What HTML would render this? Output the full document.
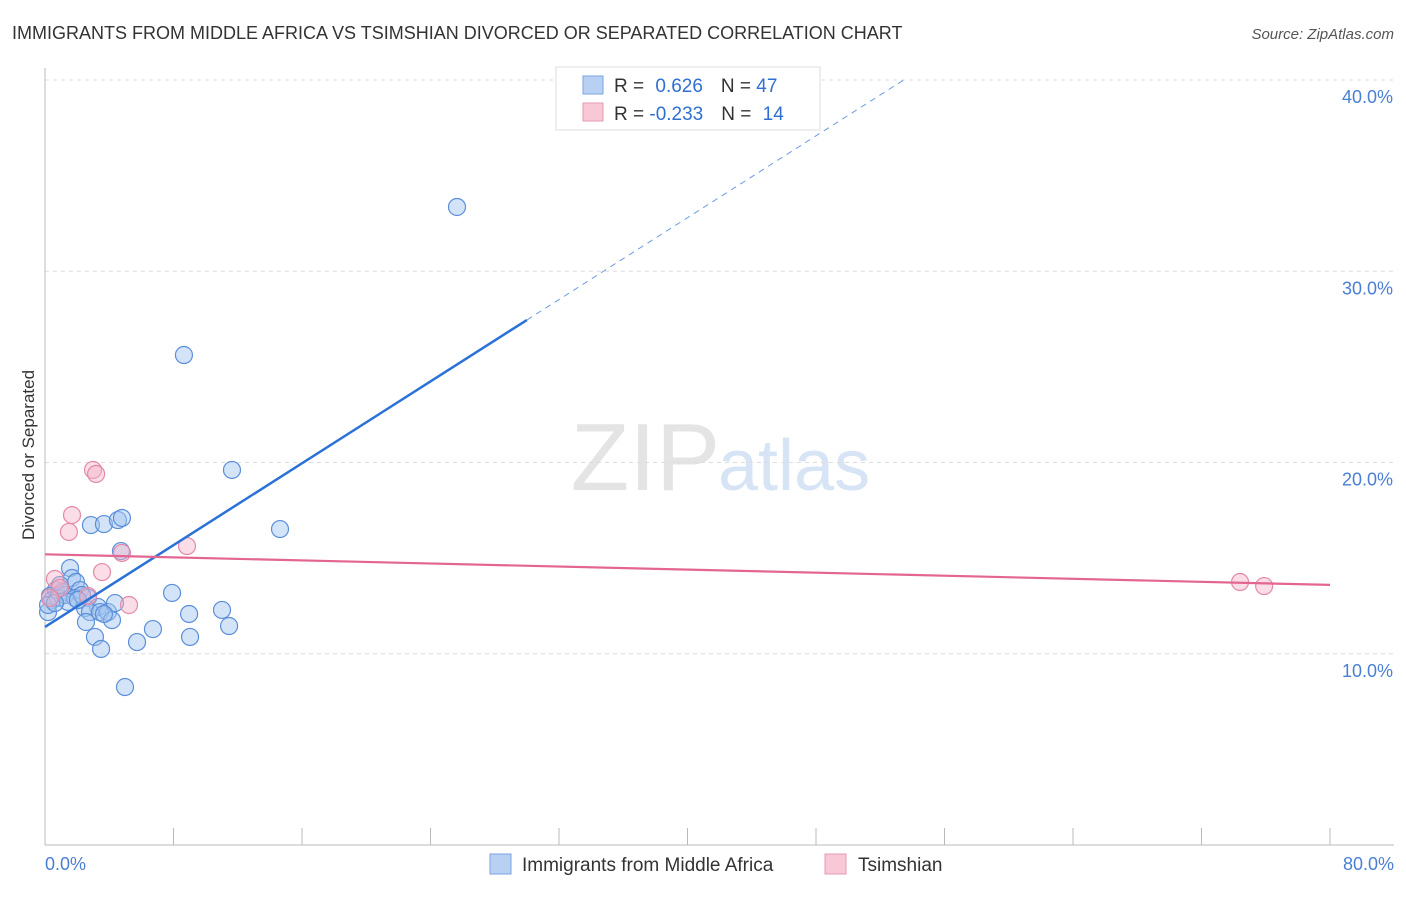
<!DOCTYPE html>
<html><head><meta charset="utf-8"><style>
body{margin:0;background:#fff;font-family:"Liberation Sans",sans-serif;}
svg text{font-family:"Liberation Sans",sans-serif;}
</style></head><body>
<svg id="c" width="1406" height="892">
<text x="12" y="39" font-size="18" fill="#333">IMMIGRANTS FROM MIDDLE AFRICA VS TSIMSHIAN DIVORCED OR SEPARATED CORRELATION CHART</text>
<text x="1394" y="39" font-size="15" fill="#555" font-style="italic" text-anchor="end">Source: ZipAtlas.com</text>
<text x="720" y="490" font-size="96" fill="#e4e4e4" text-anchor="end" font-family="Liberation Serif">ZIP</text>
<text x="718" y="490" font-size="72" fill="#d6e4f5">atlas</text>
<g id="grid"></g><g id="marks"></g>
<text transform="translate(34,455) rotate(-90)" font-size="17" fill="#333" text-anchor="middle">Divorced or Separated</text>
<text x="45" y="870" font-size="18" fill="#4a7fd4">0.0%</text>
<text x="1394" y="870" font-size="18" fill="#4a7fd4" text-anchor="end">80.0%</text>
<g>
<rect x="556" y="67" width="264" height="63" fill="#fff" stroke="#ddd"/>
<rect x="583" y="76" width="20" height="18" fill="#b8d1f3" stroke="#7aa3e0"/>
<rect x="583" y="103" width="20" height="18" fill="#f8c8d6" stroke="#e79ab3"/>
<text x="614" y="92" font-size="19" fill="#333">R = <tspan fill="#2f6fd1" dx="6">0.626</tspan><tspan dx="18" fill="#333">N = </tspan><tspan fill="#2f6fd1">47</tspan></text>
<text x="614" y="120" font-size="19" fill="#333">R = <tspan fill="#2f6fd1">-0.233</tspan><tspan dx="18" fill="#333">N = </tspan><tspan fill="#2f6fd1" dx="6">14</tspan></text>
</g>
<g>
<rect x="490" y="854" width="21" height="20" fill="#b8d1f3" stroke="#7aa3e0"/>
<text x="522" y="871" font-size="19" fill="#333">Immigrants from Middle Africa</text>
<rect x="825" y="854" width="21" height="20" fill="#f8c8d6" stroke="#e79ab3"/>
<text x="858" y="871" font-size="19" fill="#333">Tsimshian</text>
</g>
</svg>
<script>
const blueX=[25.65,8.65,11.64,14.63,2.86,3.67,4.54,4.79,4.73,1.56,1.68,1.93,0.68,1.06,0.31,0.44,0.19,0.81,1.25,2.18,1.87,1.43,2.68,3.30,2.49,2.80,3.42,3.92,4.17,2.55,4.36,7.91,6.72,5.73,3.11,3.49,4.98,8.97,9.03,11.02,11.46,0.19,2.30,0.93,0.62,3.67,2.05];
const blueY=[33.36,25.62,19.61,16.52,16.73,16.78,16.99,17.10,15.37,14.48,13.96,13.75,13.33,13.23,13.02,12.81,12.18,12.92,13.07,13.33,12.92,12.71,12.92,12.44,12.39,12.18,12.18,12.18,11.76,11.66,12.65,13.18,11.29,10.61,10.88,10.25,8.26,12.08,10.88,12.29,11.45,12.55,13.07,13.59,12.65,12.08,12.81];
const pinkX=[2.99,3.18,1.68,1.49,4.79,8.84,3.55,0.62,5.23,2.68,74.40,75.90,0.93,0.31];
const pinkY=[19.61,19.40,17.25,16.37,15.27,15.63,14.27,13.91,12.55,13.02,13.75,13.54,13.44,12.92];
const yTicks=[10,20,30,40];
const yTickLabels=["10.0%","20.0%","30.0%","40.0%"];
const xTicks=[0,8,16,24,32,40,48,56,64,72,80];
const blueFit=[11.4,0.535]; const pinkFit=[15.2,-0.02];
const sx=v=>45+v*1285/80, sy=v=>845-v*19.125;
const NS="http://www.w3.org/2000/svg";
function mk(p,t,a){const e=document.createElementNS(NS,t);for(const k in a)e.setAttribute(k,a[k]);p.appendChild(e);return e;}
const g=document.getElementById('grid'),m=document.getElementById('marks');
yTicks.forEach((t,i)=>{
 const l=mk(g,'line',{x1:45,x2:1394,y1:sy(t),y2:sy(t),stroke:'#ddd','stroke-dasharray':'4,4'});
 
 
 const tx=mk(g,'text',{x:1393,y:sy(t)+23,'font-size':18,fill:'#4a7fd4','text-anchor':'end'});
 tx.textContent=yTickLabels[i];
 
 
});
mk(g,'line',{x1:45,x2:45,y1:68,y2:845,stroke:'#bbb'});
mk(g,'line',{x1:45,x2:1394,y1:845,y2:845,stroke:'#bbb'});
xTicks.forEach(t=>{const l=mk(g,'line',{x1:sx(t),x2:sx(t),y1:828,y2:845,stroke:'#bbb'});
 
 });
function pts(X,Y,fill,stroke,name){X.forEach((x,i)=>{const c=mk(m,'circle',{cx:sx(x),cy:sy(Y[i]),r:8.5,fill:fill,stroke:stroke,'stroke-width':1.2});
 
 });}
pts(blueX,blueY,'rgba(160,195,240,0.45)','#5b8fd9','blue-point');
pts(pinkX,pinkY,'rgba(245,180,200,0.45)','#e48aa8','pink-point');
const bx2=30, bxd=(40-blueFit[0])/blueFit[1];
let l=mk(m,'line',{x1:sx(0),y1:sy(blueFit[0]),x2:sx(bx2),y2:sy(blueFit[0]+blueFit[1]*bx2),stroke:'#2a72d6','stroke-width':2.5});


l=mk(m,'line',{x1:sx(bx2),y1:sy(blueFit[0]+blueFit[1]*bx2),x2:sx(bxd),y2:sy(40),stroke:'#6b9be0','stroke-width':1,'stroke-dasharray':'6,5'});


l=mk(m,'line',{x1:sx(0),y1:sy(pinkFit[0]),x2:sx(80),y2:sy(pinkFit[0]+pinkFit[1]*80),stroke:'#e36591','stroke-width':2.2});


</script>
</body></html>
